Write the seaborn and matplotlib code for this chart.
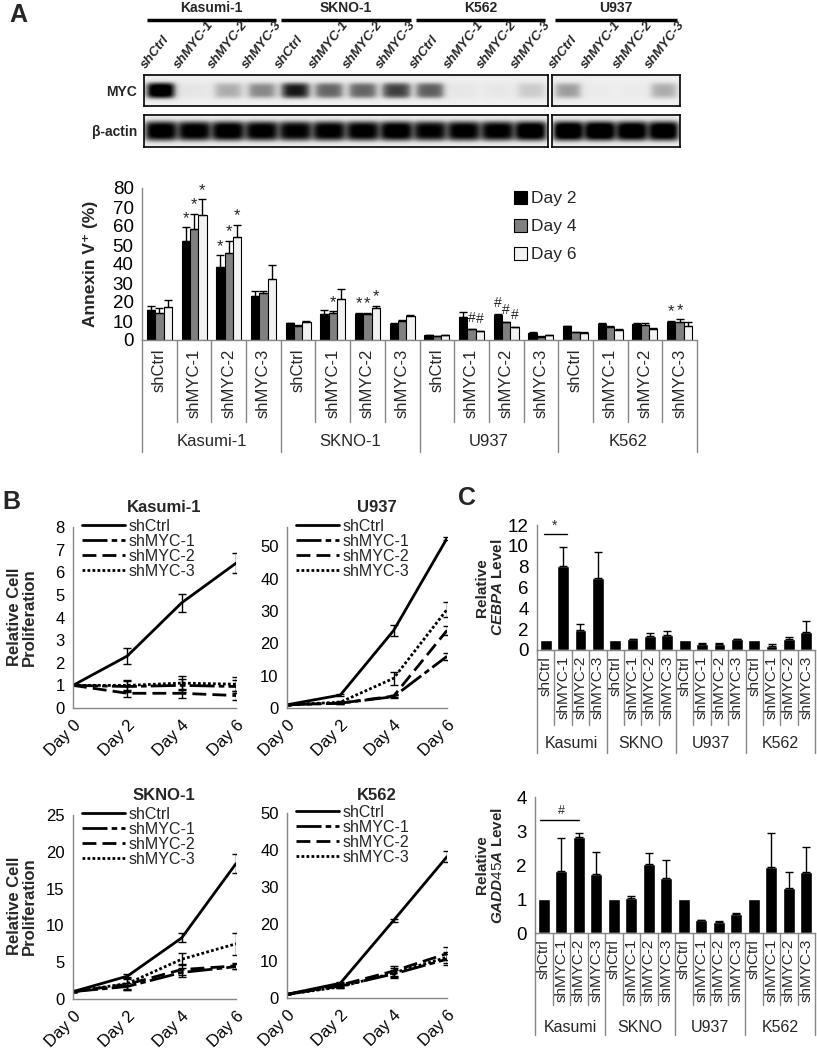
import numpy as np
import pandas as pd
import matplotlib
matplotlib.use("Agg")
import matplotlib.pyplot as plt
import seaborn as sns
from matplotlib.transforms import blended_transform_factory as blend
from matplotlib.patches import Patch

# ---------------- data ----------------
shrnas = ["shCtrl", "shMYC-1", "shMYC-2", "shMYC-3"]

# western blot (band intensities, relative)
blot_box1_lines = ["Kasumi-1", "SKNO-1", "K562"]
blot_box2_lines = ["U937"]
myc_box1 = [1.0, 0.05, 0.30, 0.42, 0.80, 0.55, 0.55, 0.68, 0.58, 0.04, 0.04, 0.18]
myc_box2 = [0.35, 0.02, 0.02, 0.30]
actin_box1 = [0.92, 0.90, 0.92, 0.90, 0.88, 0.90, 0.90, 0.92, 0.88, 0.90, 0.90, 0.95]
actin_box2 = [0.98, 0.98, 0.95, 0.95]

# Annexin V
cell_lines_A = ["Kasumi-1", "SKNO-1", "U937", "K562"]
days_A = ["Day 2", "Day 4", "Day 6"]
annexin_day2 = [16, 52, 38.5, 23, 8.7, 13.5, 13.5, 8.5, 2.4, 12.1, 13, 3.7, 7.3, 8.2, 8.2, 9.6]
annexin_day4 = [14, 58.5, 46, 25, 7.6, 14, 13.5, 10.2, 2.1, 5.6, 9.4, 1.8, 4.1, 6.6, 7.8, 9.6]
annexin_day6 = [17.5, 65.7, 54, 32, 9.5, 21.8, 16.7, 12.5, 2.5, 4.7, 6.6, 2.5, 3.9, 5.4, 5.8, 7.4]
annexin_err2 = [1.8, 7.3, 6, 2.8, 0.3, 2.3, 0.9, 0.4, 0.2, 2.8, 0.5, 0.3, 0.3, 0.8, 0.8, 0.5]
annexin_err4 = [3, 8, 6.3, 1, 0.3, 1.1, 0.9, 0.5, 0.2, 0.3, 0.3, 0.2, 0.3, 0.8, 0.9, 1.3]
annexin_err6 = [3.3, 8.5, 6.6, 7.5, 0.7, 4.9, 1.2, 0.8, 0.2, 0.3, 0.5, 0.3, 0.3, 0.5, 0.5, 2.2]
annexin_marks = [(1, 0, "*"), (1, 1, "*"), (1, 2, "*"), (2, 0, "*"), (2, 1, "*"), (2, 2, "*"),
                 (5, 1, "*"), (6, 0, "*"), (6, 1, "*"), (6, 2, "*"),
                 (9, 1, "#"), (9, 2, "#"), (10, 0, "#"), (10, 1, "#"), (10, 2, "#"),
                 (15, 0, "*"), (15, 1, "*")]

# Proliferation
days_B = ["Day 0", "Day 2", "Day 4", "Day 6"]
kasumi_prolif = [[1, 2.3, 4.65, 6.4], [1, 0.95, 1.0, 0.95], [1, 0.65, 0.65, 0.55], [1, 1.0, 1.1, 1.05]]
kasumi_err = [[0, 0.35, 0.4, 0.45], [0, 0.25, 0.3, 0.3], [0, 0.15, 0.2, 0.2], [0, 0.25, 0.3, 0.3]]
u937_prolif = [[1, 4, 24, 52.5], [1, 1.5, 3.5, 16], [1, 1.5, 3.7, 24], [1, 1.8, 9.2, 30.5]]
u937_err = [[0, 0.3, 1.8, 0.5], [0, 0.2, 0.4, 1.0], [0, 0.2, 0.4, 1.5], [0, 0.3, 2.0, 2.2]]
skno_prolif = [[1, 3.1, 8.3, 18.4], [1, 1.7, 3.6, 4.4], [1, 2.0, 4.0, 4.5], [1, 2.1, 5.4, 7.5]]
skno_err = [[0, 0.3, 0.6, 1.3], [0, 0.5, 0.6, 0.3], [0, 0.7, 0.8, 0.4], [0, 0.9, 0.8, 1.5]]
k562_prolif = [[1, 4.0, 21, 38.2], [1, 3.2, 6.5, 10.5], [1, 3.5, 7.3, 12], [1, 3.0, 6.8, 11]]
k562_err = [[0, 0.3, 0.4, 1.5], [0, 0.5, 1.2, 1.5], [0, 0.5, 1.3, 1.7], [0, 0.4, 1.2, 1.5]]

# qPCR
cell_lines_C = ["Kasumi", "SKNO", "U937", "K562"]
cebpa = [1.0, 8.05, 1.95, 6.95, 1.0, 1.05, 1.35, 1.4, 1.0, 0.6, 0.6, 1.05, 1.0, 0.4, 1.1, 1.7]
cebpa_err = [0, 1.8, 0.5, 2.45, 0, 0.05, 0.3, 0.4, 0, 0.03, 0.03, 0.03, 0, 0.15, 0.15, 1.1]
gadd45a = [1.0, 1.82, 2.83, 1.75, 1.0, 1.03, 2.03, 1.62, 1.0, 0.38, 0.33, 0.55, 1.0, 1.95, 1.33, 1.8]
gadd45a_err = [0, 0.98, 0.12, 0.62, 0, 0.07, 0.32, 0.53, 0, 0.01, 0.01, 0.05, 0, 1.0, 0.47, 0.72]

# ---------------- setup ----------------
sns.set_theme(style="white")
plt.rcParams["font.family"] = ["Liberation Sans", "DejaVu Sans"]
plt.rcParams["mathtext.fontset"] = "custom"
plt.rcParams["mathtext.rm"] = "Liberation Sans"
plt.rcParams["mathtext.it"] = "Liberation Sans:italic:bold"
plt.rcParams["mathtext.bf"] = "Liberation Sans:bold"

W, H = 817, 1050
GRAY = "#868686"
fig = plt.figure(figsize=(W / 100, H / 100), dpi=100)


def add_ax(x0, y0, x1, y1):
    return fig.add_axes([x0 / W, 1 - y1 / H, (x1 - x0) / W, (y1 - y0) / H])


def ypos(top, bot):
    return lambda py: (bot - py) / (bot - top)


def style_axes(ax, fs):
    for s in ["top", "right"]:
        ax.spines[s].set_visible(False)
    for s in ["left", "bottom"]:
        ax.spines[s].set_color(GRAY)
        ax.spines[s].set_linewidth(1)
    ax.tick_params(axis="both", color=GRAY, length=4, width=1, direction="out",
                   labelsize=fs, labelcolor="black", pad=2)


def multilevel(ax, top, bot, groups, lab_top, inner_end, grp_y, grp_end, fs_cat, fs_grp):
    ay = ypos(top, bot)
    tr = blend(ax.transData, ax.transAxes)
    n = len(groups) * len(shrnas)
    for i in range(n):
        ax.text(i, ay(lab_top), shrnas[i % 4], rotation=90, ha="center", va="top",
                transform=tr, fontsize=fs_cat)
    for b in range(n + 1):
        end = grp_end if b % 4 == 0 else inner_end
        ax.plot([b - 0.5, b - 0.5], [0, ay(end)], transform=tr, color=GRAY, lw=1,
                clip_on=False)
    for gi, g in enumerate(groups):
        ax.text(gi * 4 + 1.5, ay(grp_y), g, ha="center", va="center", transform=tr,
                fontsize=fs_grp)
    ax.set_xticks([])
    ax.set_xlim(-0.5, n - 0.5)


def draw_blot(ax, intens, sigma, halfw, bg):
    n = len(intens)
    res = 40
    xs = (np.arange(n * res) + 0.5) / res - 0.5
    ys = (np.arange(res) + 0.5) / res
    img = np.full((res, n * res), bg, dtype=float)
    py = np.exp(-0.5 * ((ys - 0.5) / sigma) ** 4)
    for i, v in enumerate(intens):
        px = 1 / (1 + np.exp((np.abs(xs - i) - halfw) / 0.07))
        img += v * np.outer(py, px)
    ax.imshow(np.clip(img, 0, 1), cmap="Greys", vmin=0, vmax=1, aspect="auto",
              extent=(-0.5, n - 0.5, 1, 0), interpolation="bilinear")
    ax.set_xlim(-0.5, n - 0.5)
    ax.set_ylim(1, 0)
    ax.set_xticks([])
    ax.set_yticks([])
    for s in ax.spines.values():
        s.set_visible(True)
        s.set_color("black")
        s.set_linewidth(1.2)


# ---------------- panel A: blot ----------------
fig.text(9 / W, 1 - 15 / H, "A", fontsize=18, fontweight="bold", va="center", ha="left")

boxes = [(144, 548, myc_box1, actin_box1, blot_box1_lines),
         (552, 680, myc_box2, actin_box2, blot_box2_lines)]
for x0, x1, myc, act, names in boxes:
    axm = add_ax(x0, 75, x1, 106)
    draw_blot(axm, myc, 0.22, 0.40, 0.13)
    axb = add_ax(x0, 115, x1, 147)
    draw_blot(axb, act, 0.27, 0.46, 0.13)
    ay = ypos(75, 106)
    tr = blend(axm.transData, axm.transAxes)
    for i in range(len(myc)):
        axm.text(i - 0.38, ay(71), shrnas[i % 4], rotation=52, ha="left", va="bottom",
                 rotation_mode="anchor", transform=tr, fontsize=9.5,
                 fontweight="bold", fontstyle="italic")
    for gi, name in enumerate(names):
        axm.plot([gi * 4 - 0.42, gi * 4 + 3.42], [ay(20), ay(20)], transform=tr,
                 color="black", lw=2.5, clip_on=False, solid_capstyle="butt")
        axm.text(gi * 4 + 1.5, ay(8), name, ha="center", va="center", transform=tr,
                 fontsize=10, fontweight="bold")

fig.text(137 / W, 1 - 92 / H, "MYC", ha="right", va="center", fontsize=10, fontweight="bold")
fig.text(137 / W, 1 - 132 / H, "β-actin", ha="right", va="center", fontsize=10,
         fontweight="bold")

# ---------------- panel A: Annexin bars ----------------
axA = add_ax(142, 188, 697, 340)
rows = []
for d, vals in zip(days_A, [annexin_day2, annexin_day4, annexin_day6]):
    for i, v in enumerate(vals):
        rows.append({"cat": f"{cell_lines_A[i // 4]}|{shrnas[i % 4]}", "day": d, "value": v})
dfA = pd.DataFrame(rows)
cat_order = [f"{g}|{s}" for g in cell_lines_A for s in shrnas]
palA = {"Day 2": "black", "Day 4": "#808080", "Day 6": "#f2f2f2"}
sns.barplot(data=dfA, x="cat", y="value", hue="day", order=cat_order, hue_order=days_A,
            palette=palA, edgecolor="black", linewidth=0.8, width=0.72, errorbar=None,
            legend=False, ax=axA)
barsA = [list(c) for c in axA.containers]
errsA = [annexin_err2, annexin_err4, annexin_err6]
for di, cont in enumerate(barsA):
    xs = [b.get_x() + b.get_width() / 2 for b in cont]
    ys = [b.get_height() for b in cont]
    axA.errorbar(xs, ys, yerr=[np.zeros(len(ys)), errsA[di]], fmt="none", ecolor="black",
                 elinewidth=1, capsize=3, capthick=1)
for ci, di, sym in annexin_marks:
    b = barsA[di][ci]
    top = b.get_height() + errsA[di][ci]
    axA.annotate(sym, (b.get_x() + b.get_width() / 2, top),
                 xytext=(0, 1 if sym == "*" else 3), textcoords="offset points",
                 ha="center", va="bottom", fontsize=12 if sym == "*" else 10,
                 annotation_clip=False)
axA.set_ylim(0, 80)
axA.set_yticks(range(0, 81, 10))
style_axes(axA, 13.5)
axA.set_xlabel("")
axA.set_ylabel("")
multilevel(axA, 188, 340, cell_lines_A, 349, 422, 442, 452, 12, 12)
fig.text(90 / W, 1 - 264 / H, "Annexin V\u207a (%)", rotation=90, ha="center", va="center",
         fontsize=12.5, fontweight="bold")
handles = [Patch(facecolor=palA[d], edgecolor="black", linewidth=0.8) for d in days_A]
axA.legend(handles, days_A, loc="upper left", bbox_to_anchor=(514 / W, 1 - 191 / H),
           bbox_transform=fig.transFigure, frameon=False, fontsize=12.5,
           handlelength=0.75, handleheight=0.75, handletextpad=0.25, labelspacing=0.72,
           borderpad=0, borderaxespad=0)

# ---------------- panel B: proliferation ----------------
fig.text(2 / W, 1 - 502 / H, "B", fontsize=18, fontweight="bold", va="center", ha="left")
dash_map = {"shCtrl": "", "shMYC-1": (9, 1.5, 2, 1.5), "shMYC-2": (5, 2.2), "shMYC-3": (1, 0.8)}
pal_lines = {s: "black" for s in shrnas}


def line_panel(x0, y0, x1, y1, title, vals, errs, ylim, ystep, title_y):
    ax = add_ax(x0, y0, x1, y1)
    rows = []
    for s, series in zip(shrnas, vals):
        for di, v in enumerate(series):
            rows.append({"day": di, "value": v, "shRNA": s})
    df = pd.DataFrame(rows)
    sns.lineplot(data=df, x="day", y="value", hue="shRNA", style="shRNA", hue_order=shrnas,
                 style_order=shrnas, palette=pal_lines, dashes=dash_map, linewidth=2,
                 legend=False, errorbar=None, ax=ax)
    handles = list(ax.lines[:4])
    for series, e in zip(vals, errs):
        ax.errorbar(range(len(days_B)), series, yerr=e, fmt="none", ecolor="black",
                    elinewidth=1, capsize=3, capthick=1)
    ax.set_xlim(0, len(days_B) - 1)
    ax.set_ylim(0, ylim)
    ticks = [t for t in range(0, int(ylim) + 1, ystep)]
    ax.set_yticks(ticks)
    ax.set_xticks(range(len(days_B)))
    ax.set_xticklabels(days_B, rotation=45, ha="right", va="top", rotation_mode="anchor")
    style_axes(ax, 12)
    ax.tick_params(axis="x", pad=3, labelsize=12)
    ax.set_xlabel("")
    ax.set_ylabel("")
    ax.legend(handles, shrnas, loc="upper left", bbox_to_anchor=(0.055, 1.045), frameon=False,
              fontsize=11.5, handlelength=2.7, handletextpad=0.2, labelspacing=0.0,
              borderpad=0, borderaxespad=0)
    ay = ypos(y0, y1)
    ax.text(0.56, ay(title_y), title, transform=ax.transAxes, ha="center", va="center",
            fontsize=12, fontweight="bold")
    return ax


line_panel(73, 527, 236, 708, "Kasumi-1", kasumi_prolif, kasumi_err, 8, 1, 507)
line_panel(287, 527, 447, 708, "U937", u937_prolif, u937_err, 56, 10, 507)
line_panel(73, 815, 236, 999, "SKNO-1", skno_prolif, skno_err, 25, 5, 795)
line_panel(287, 813, 447, 998, "K562", k562_prolif, k562_err, 50, 10, 795)
for cy in [617, 906]:
    fig.text(22 / W, 1 - cy / H, "Relative Cell\nProliferation", rotation=90, ha="center",
             va="center", fontsize=12, fontweight="bold", linespacing=1.0)

# ---------------- panel C: qPCR bars ----------------
fig.text(458 / W, 1 - 498 / H, "C", fontsize=18, fontweight="bold", va="center", ha="left")


def qpcr_panel(x0, y0, x1, y1, vals, errs, ylim, ystep, label, lab_top, inner_end, grp_y,
               grp_end):
    ax = add_ax(x0, y0, x1, y1)
    cats = [f"{g}|{s}" for g in cell_lines_C for s in shrnas]
    df = pd.DataFrame({"cat": cats, "value": vals})
    sns.barplot(data=df, x="cat", y="value", order=cats, color="black", saturation=1,
                width=0.68, errorbar=None, ax=ax)
    bars = list(ax.containers[0])
    xs = [b.get_x() + b.get_width() / 2 for b in bars]
    ys = [b.get_height() for b in bars]
    show = [i for i, e in enumerate(errs) if e > 0]
    ax.errorbar([xs[i] for i in show], [ys[i] for i in show],
                yerr=[np.zeros(len(show)), [errs[i] for i in show]], fmt="none",
                ecolor="black", elinewidth=1, capsize=3, capthick=1)
    ax.set_ylim(0, ylim)
    ax.set_yticks(range(0, ylim + 1, ystep))
    style_axes(ax, 13.5)
    ax.set_xlabel("")
    ax.set_ylabel("")
    multilevel(ax, y0, y1, cell_lines_C, lab_top, inner_end, grp_y, grp_end, 11, 11.5)
    fig.text(490 / W, 1 - (y0 + y1) / 2 / H, label, rotation=90, ha="center", va="center",
             fontsize=11, fontweight="bold", linespacing=1.05)
    return ax, xs


axC1, xs1 = qpcr_panel(537, 525, 815, 650, cebpa, cebpa_err, 12, 2,
                       "Relative\n$\\mathit{CEBPA}$ Level", 656, 725, 743, 753)
axC1.plot([xs1[0] - 0.1, xs1[1] + 0.2], [11.1, 11.1], color="black", lw=1, clip_on=False)
axC1.text((xs1[0] + xs1[1]) / 2, 11.3, "*", ha="center", va="bottom", fontsize=10)

axC2, xs2 = qpcr_panel(535, 797, 815, 933, gadd45a, gadd45a_err, 4, 1,
                       "Relative\n$\\mathit{GADD45A}$ Level", 939, 1005, 1027, 1035)
axC2.plot([xs2[0] - 0.2, xs2[2]], [3.32, 3.32], color="black", lw=1, clip_on=False)
axC2.text(xs2[1], 3.42, "#", ha="center", va="bottom", fontsize=9)

fig.savefig("out.png", dpi=100)
